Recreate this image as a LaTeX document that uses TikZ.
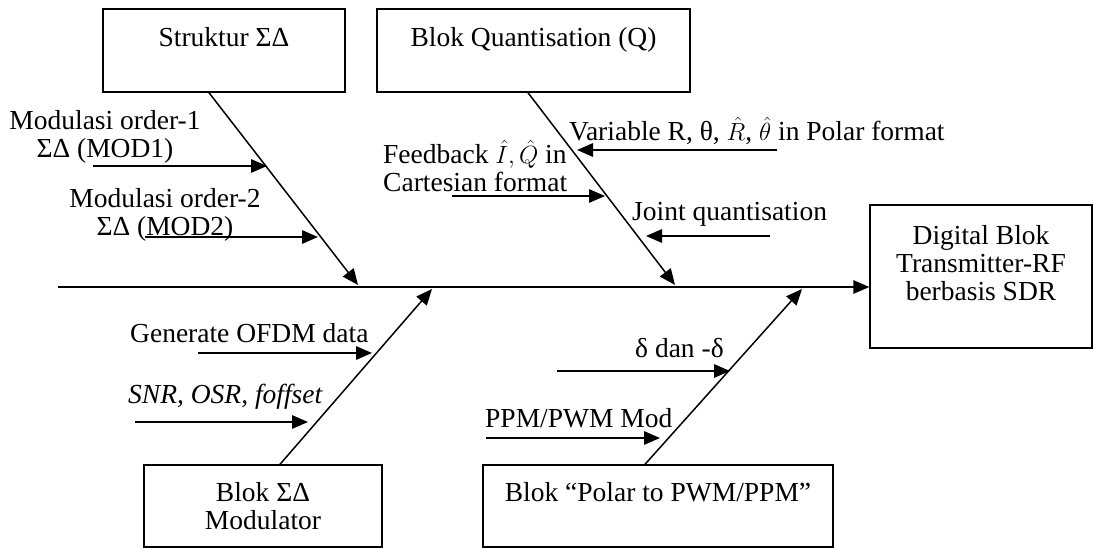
\documentclass[tikz,border=0pt]{standalone}
\usepackage{fontspec}
\setmainfont{Liberation Serif}
\usetikzlibrary{arrows.meta,positioning,calc}

\begin{document}
\begin{tikzpicture}[
    x=1pt, y=-1pt,
    font=\fontsize{27.5}{28}\selectfont,
    block/.style={rectangle, draw, line width=1.4pt, align=center, inner sep=0pt},
    lbl/.style={inner sep=0pt},
    arrow/.style={-{Triangle[length=16pt,width=13.5pt]}, line width=1.5pt},
]
    \useasboundingbox (0,0) rectangle (1094,548);

    % Blocks
    \node[block, minimum width=242pt, minimum height=83pt] (struktur) at (224,50.5) {Struktur ΣΔ\\ \mbox{}};
    \node[block, minimum width=313pt, minimum height=83pt] (quant) at (533.5,50.5) {Blok Quantisation (Q)\\ \mbox{}};
    \node[block, minimum width=222pt, minimum height=143pt] (sdr) at (981,276.5) {Digital Blok\\Transmitter-RF\\berbasis SDR\\ \mbox{}};
    \node[block, minimum width=238pt, minimum height=82pt] (sdmod) at (263,506) {Blok ΣΔ\\Modulator};
    \node[block, minimum width=350pt, minimum height=82pt] (polar) at (658,506) {Blok “Polar to PWM/PPM”\\ \mbox{}};

    % Labels
    \node[lbl, align=center] (mod1) at (105,137) {Modulasi order-1\\ΣΔ (MOD1)};
    \node[lbl, align=center] (mod2) at (165,215) {Modulasi order-2\\ΣΔ (MOD2)};
    \node[lbl, align=left, anchor=west] (feedback) at (383,166) {Feedback $\hat{I}, \hat{Q}$ in\\Cartesian format};
    \node[lbl, anchor=west] (variable) at (569,131) {Variable R, θ, $\hat{R}$, $\hat{\theta}$ in Polar format};
    \node[lbl, anchor=west] (joint) at (632,214) {Joint quantisation};
    \node[lbl, anchor=west] (ofdm) at (130,333) {Generate OFDM data};
    \node[lbl, anchor=west] (snr) at (128,397) {\textit{SNR, OSR, foffset}};
    \node[lbl, anchor=west] (delta) at (635,348) {δ dan -δ};
    \node[lbl, anchor=west] (ppm) at (485,418) {PPM/PWM Mod};

    % Spine and bones
    \coordinate (tail) at (58,287);
    \coordinate (j1) at (358,285);
    \coordinate (j2) at (675,285);
    \coordinate (j3) at (432,289);
    \coordinate (j4) at (802,289);
    \draw[arrow] (tail) -- (tail -| sdr.west);
    \draw[arrow] ($(struktur.south)+(-15,0)$) -- (j1);
    \draw[arrow] ($(quant.south)+(-5.5,0)$) -- (j2);
    \draw[arrow] ($(sdmod.north)+(17,0)$) -- (j3);
    \draw[arrow] ($(polar.north)+(-13,0)$) -- (j4);

    % Inputs
    \coordinate (mod1-a) at (93,166);   \coordinate (mod1-b) at (267,166);
    \coordinate (mod2-a) at (145,237);  \coordinate (mod2-b) at (318,237);
    \coordinate (fb-a) at (452,196);    \coordinate (fb-b) at (605,196);
    \coordinate (var-a) at (777,150);   \coordinate (var-b) at (577,150);
    \coordinate (joint-a) at (770,236); \coordinate (joint-b) at (646,236);
    \coordinate (ofdm-a) at (198,353);  \coordinate (ofdm-b) at (372,353);
    \coordinate (snr-a) at (135,422);   \coordinate (snr-b) at (308,422);
    \coordinate (delta-a) at (557,371); \coordinate (delta-b) at (730,371);
    \coordinate (ppm-a) at (486,438);   \coordinate (ppm-b) at (660,438);
    \draw[arrow] (mod1-a) -- (mod1-b);
    \draw[arrow] (mod2-a) -- (mod2-b);
    \draw[arrow] (fb-a) -- (fb-b);
    \draw[arrow] (var-a) -- (var-b);
    \draw[arrow] (joint-a) -- (joint-b);
    \draw[arrow] (ofdm-a) -- (ofdm-b);
    \draw[arrow] (snr-a) -- (snr-b);
    \draw[arrow] (delta-a) -- (delta-b);
    \draw[arrow] (ppm-a) -- (ppm-b);
\end{tikzpicture}
\end{document}
